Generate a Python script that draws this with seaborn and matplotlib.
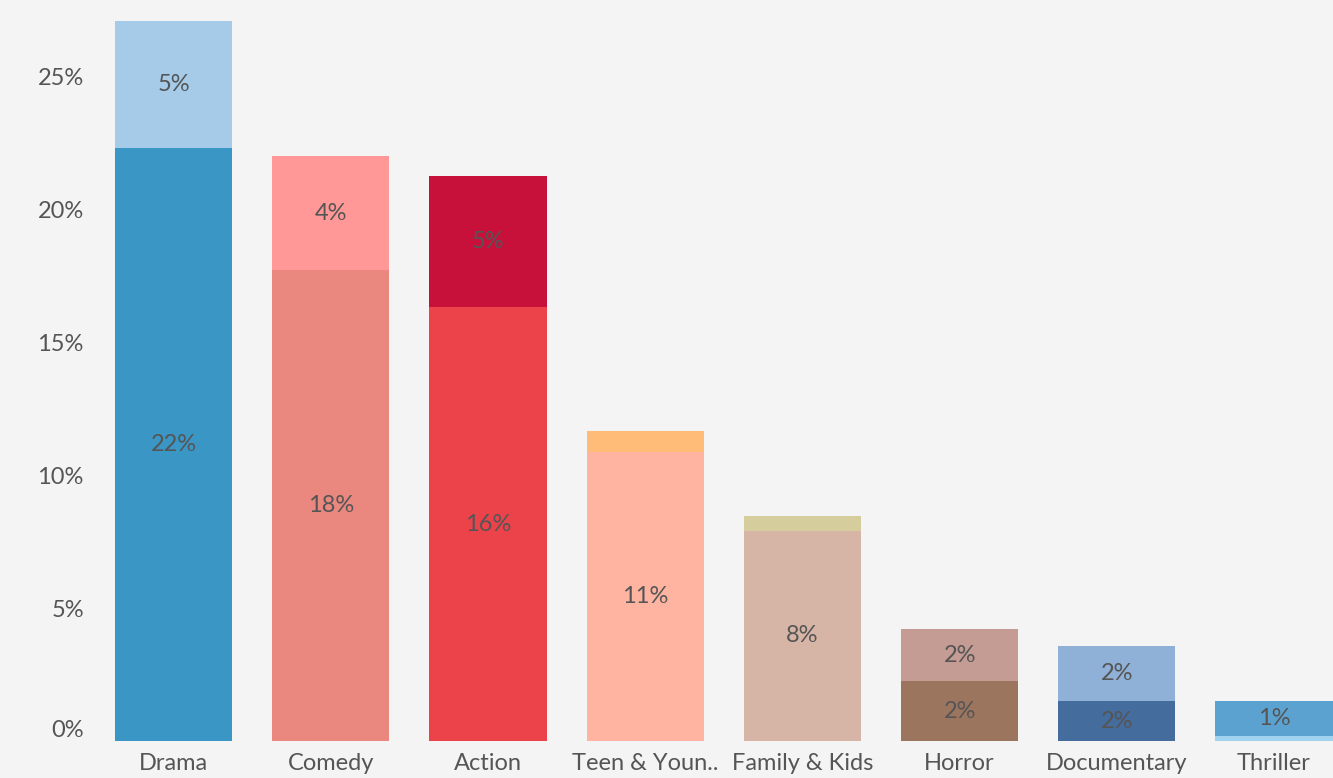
import numpy as np
import pandas as pd
import seaborn as sns
import matplotlib.pyplot as plt

genres = ["Drama", "Comedy", "Action", "Teen & Youn..", "Family & Kids",
          "Horror", "Documentary", "Thriller"]
# share of titles (percent), lower and upper segment of each stack
lower = [22.3, 17.7, 16.3, 10.85, 7.9, 2.25, 1.5, 0.19]
upper = [4.77, 4.3, 4.95, 0.8, 0.56, 1.95, 2.07, 1.31]
lower_colors = ["#3a96c4", "#ea877f", "#ec434b", "#ffb4a2", "#d7b5a6",
                "#9c755f", "#446c9c", "#9fd3ef"]
upper_colors = ["#a5cbe8", "#ff9896", "#c8113a", "#ffbb78", "#d6cd9d",
                "#c49c94", "#8fb0d7", "#5ba2d0"]
lower_labels = ["22%", "18%", "16%", "11%", "8%", "2%", "2%", ""]
upper_labels = ["5%", "4%", "5%", "", "", "2%", "2%", "1%"]

df = pd.DataFrame({"genre": genres, "lower": lower, "upper": upper})
df["total"] = df["lower"] + df["upper"]

bg = "#f4f4f4"
sns.set_style("white")
plt.rcParams["font.family"] = ["Lato", "DejaVu Sans"]

fig = plt.figure(figsize=(13.33, 7.78), dpi=100, facecolor=bg)
ax = fig.add_axes([95 / 1333, 37 / 778, 1 - 95 / 1333, 741 / 778])
ax.set_facecolor(bg)

sns.barplot(data=df, x="genre", y="total", hue="genre",
            palette=dict(zip(genres, upper_colors)), dodge=False,
            width=0.745, saturation=1, legend=False, linewidth=0, ax=ax)
sns.barplot(data=df, x="genre", y="lower", hue="genre",
            palette=dict(zip(genres, lower_colors)), dodge=False,
            width=0.745, saturation=1, legend=False, linewidth=0, ax=ax)

txt = "#555555"
fs = 17
for i, g in enumerate(genres):
    if lower_labels[i]:
        ax.text(i, lower[i] / 2, lower_labels[i], ha="center", va="center",
                fontsize=fs, color=txt)
    if upper_labels[i]:
        ax.text(i, lower[i] + upper[i] / 2, upper_labels[i], ha="center",
                va="center", fontsize=fs, color=txt)

ax.set_xlim(-0.5, 7.375)
ax.set_ylim(0, 27.86)
yt = [0, 5, 10, 15, 20, 25]
ax.set_yticks(yt)
ax.set_yticklabels([f"{v}%" for v in yt])
ax.tick_params(axis="both", length=0, labelsize=fs, labelcolor=txt)
ax.tick_params(axis="y", pad=8)
ax.tick_params(axis="x", pad=9)
ax.get_yticklabels()[0].set_va("bottom")
ax.set_xlabel("")
ax.set_ylabel("")
sns.despine(ax=ax, left=True, bottom=True)

fig.savefig("out.png", dpi=100, facecolor=bg)
